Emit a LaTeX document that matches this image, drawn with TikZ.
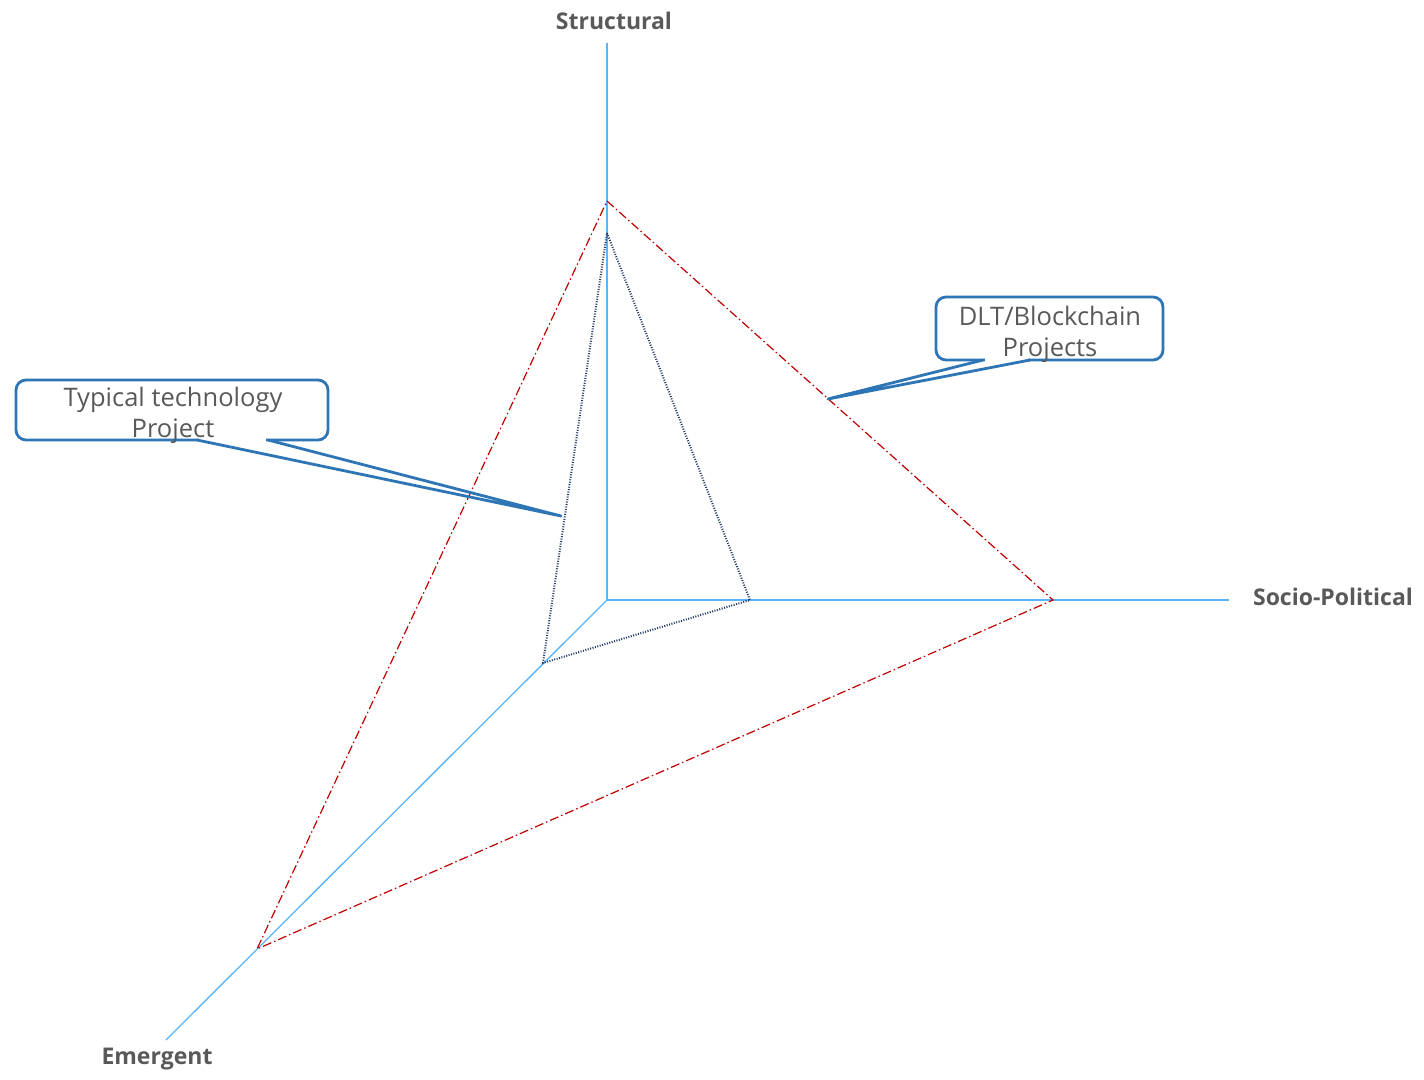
\documentclass[tikz,border=0pt]{standalone}
\usepackage{fontspec}
\setmainfont{Open Sans}
\definecolor{axisblue}{HTML}{5AB4F7}
\definecolor{redline}{HTML}{C00000}
\definecolor{navydot}{HTML}{1F3864}
\definecolor{callblue}{HTML}{2E75B6}
\definecolor{txtgray}{HTML}{595959}
\begin{document}
\begin{tikzpicture}[x=1pt,y=-1pt,
  axis/.style={draw=axisblue,line width=1.3pt},
  redtri/.style={draw=redline,line width=1.2pt,dash pattern=on 9pt off 3pt on 1.5pt off 3pt},
  bluetri/.style={draw=navydot,line width=2pt,dash pattern=on 1pt off 1.5pt},
  calloutbox/.style={draw=callblue,line width=2.8pt,rounded corners=10pt,fill=white,inner sep=0pt},
  callouttext/.style={inner sep=0pt,align=center,text=txtgray,font=\fontsize{25.5}{31}\selectfont},
  pointer/.style={draw=callblue,line width=2.8pt,line join=round},
  axlabel/.style={text=txtgray,font=\bfseries\fontsize{23}{26}\selectfont,inner sep=0pt}]
\useasboundingbox (0,0) rectangle (1424,1079);
% axes
\coordinate (O) at (607,600);
\coordinate (Sax) at (607,43);
\coordinate (Pax) at (1229,600);
\coordinate (Eax) at (166,1040);
\draw[axis] (O) -- (Sax);
\draw[axis] (O) -- (Pax);
\draw[axis] (O) -- (Eax);
\node[axlabel] (ls) at (614,21) {Structural};
\node[axlabel] (lp) at (1333,597) {Socio-Political};
\node[axlabel] (le) at (157,1059) {Emergent};
% red triangle
\coordinate (RS) at (607,201);
\coordinate (RP) at (1053,600);
\coordinate (RE) at (257,949);
\draw[redtri] (RS) -- (RP) -- (RE) -- cycle;
% blue dotted triangle
\coordinate (BS) at (607,233);
\coordinate (BP) at (750,600);
\coordinate (BE) at (543,663);
\draw[bluetri] (BS) -- (BP) -- (BE) -- cycle;
% callout 1
\node[calloutbox,minimum width=312pt,minimum height=60pt] (c1) at (172,410) {};
\node[callouttext] (t1) at (173,415) {Typical technology\\Project};
\coordinate (T1) at (561,516);
\coordinate (A1) at (197,440);
\coordinate (B1) at (268,440);
\draw[white,line width=4pt] ([xshift=2pt]A1) -- ([xshift=-2pt]B1);
\draw[pointer] (A1) -- (T1) -- (B1);
% callout 2
\node[calloutbox,minimum width=227pt,minimum height=63pt] (c2) at (1049.5,328.5) {};
\node[callouttext] (t2) at (1050,334) {DLT/Blockchain\\Projects};
\coordinate (T2) at (828,399);
\coordinate (A2) at (983,360);
\coordinate (B2) at (1030,360);
\draw[white,line width=4pt] ([xshift=2pt]A2) -- ([xshift=-2pt]B2);
\draw[pointer] (A2) -- (T2) -- (B2);
\end{tikzpicture}
\end{document}
